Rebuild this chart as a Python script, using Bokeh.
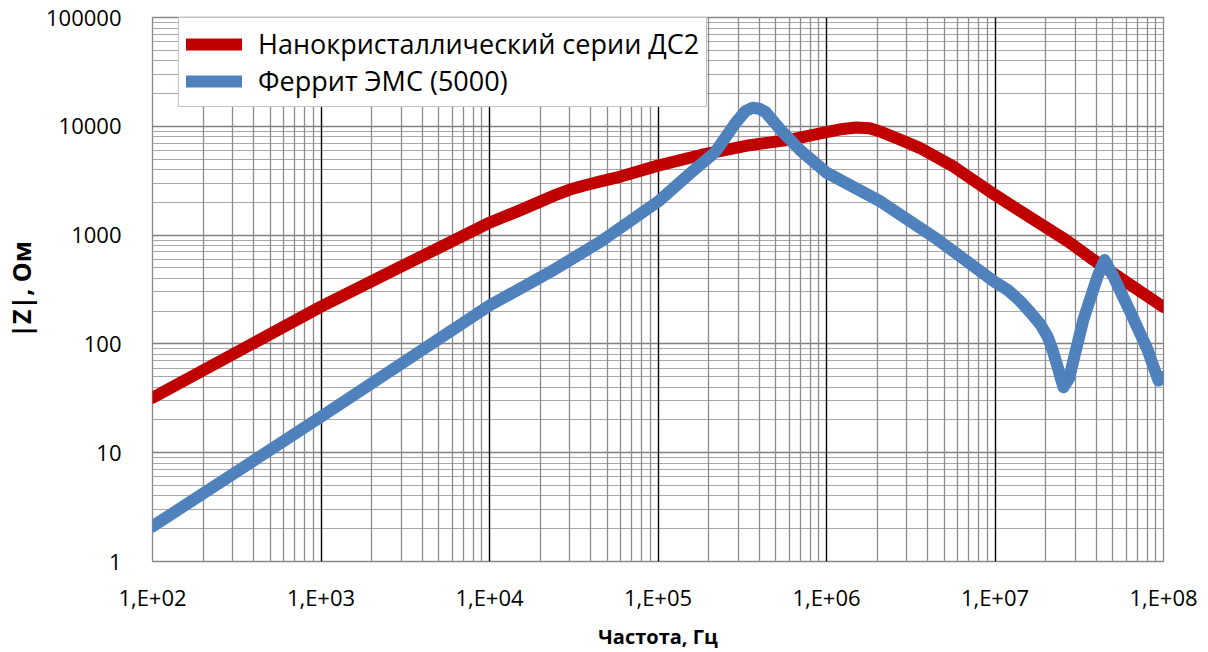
from bokeh.plotting import figure
from bokeh.models import Range1d, FixedTicker, Grid, Legend, LegendItem
from bokeh.embed import file_html
from bokeh.resources import INLINE

# ---- data ----
series_names = ["Нанокристаллический серии ДС2", "Феррит ЭМС (5000)"]

red_freq = [1e2, 1e3, 3e3, 1e4, 1.5e4, 2e4, 2.5e4, 3e4, 3.7e4, 4.5e4, 6e4, 1e5, 1.8e5,
            3.5e5, 6e5, 1e6, 1.25e6, 1.5e6, 1.8e6, 2.1e6, 2.7e6, 3.6e6, 5.7e6, 1e7,
            2.7e7, 3.85e7, 1e8]
red_z = [32, 220, 515, 1300, 1680, 2030, 2360, 2620, 2870, 3100, 3450, 4350, 5450,
         6700, 7500, 8850, 9450, 9750, 9600, 8900, 7600, 6300, 4240, 2340,
         880, 590, 218]

blue_freq = [1e2, 1e3, 1e4, 2.3e4, 4.56e4, 1e5, 1.56e5, 2.19e5, 2.88e5, 3.3e5, 3.64e5,
             4.0e5, 4.35e5, 5.33e5, 7e5, 1e6, 2.1e6, 4.56e6, 1e7, 1.2e7, 1.4e7, 1.62e7,
             1.86e7, 2.05e7, 2.19e7, 2.35e7, 2.45e7, 2.55e7, 2.75e7, 2.93e7, 3.35e7, 4.06e7,
             4.47e7, 5.05e7, 6.37e7, 8.03e7, 9.34e7, 1e8]
blue_z = [2.1, 21.4, 225, 460, 870, 2030, 3720, 5800, 10700, 13800, 14800,
          14500, 13500, 9300, 6000, 3750, 2030, 910, 370, 310, 250, 195,
          151, 117, 89, 62, 49, 40, 48, 72, 168, 415,
          590, 415, 195, 89, 46, 50]

x_ticks = [1e2, 1e3, 1e4, 1e5, 1e6, 1e7, 1e8]
x_tick_labels = ["1,E+02", "1,E+03", "1,E+04", "1,E+05", "1,E+06", "1,E+07", "1,E+08"]
y_ticks = [1, 10, 100, 1000, 10000, 100000]
y_tick_labels = ["1", "10", "100", "1000", "10000", "100000"]

x_minor = [k * t for t in x_ticks[:-1] for k in range(2, 10)]
y_minor = [k * t for t in y_ticks[:-1] for k in range(2, 10)]

FONT = "Open Sans"

p = figure(width=1208, height=652, x_axis_type="log", y_axis_type="log",
           x_range=Range1d(1e2, 1e8), y_range=Range1d(1, 1e5),
           output_backend="svg", toolbar_location=None,
           min_border_left=152, min_border_right=45, min_border_top=17, min_border_bottom=89)

p.outline_line_color = "#888888"
p.outline_line_width = 1.3
p.background_fill_color = "white"
p.border_fill_color = "white"

# axes
for ax, ticks, labels, minor in ((p.xaxis, x_ticks, x_tick_labels, x_minor),
                                 (p.yaxis, y_ticks, y_tick_labels, y_minor)):
    ax.ticker = FixedTicker(ticks=ticks, minor_ticks=minor)
    ax.major_label_overrides = {t: l for t, l in zip(ticks, labels)}
    ax.major_tick_line_color = None
    ax.minor_tick_line_color = None
    ax.axis_line_color = None
    ax.major_label_text_font = FONT
    ax.major_label_text_font_size = "22px"
    ax.major_label_text_color = "black"
    ax.axis_label_text_font = FONT
    ax.axis_label_text_font_style = "bold"
    ax.axis_label_text_color = "black"

p.xaxis.axis_label_text_font_size = "20px"
p.yaxis.axis_label_text_font_size = "25px"
p.xaxis.major_label_standoff = 14
p.yaxis.major_label_standoff = 25
p.xaxis.axis_label = "Частота, Гц"
p.yaxis.axis_label = "|Z|, Ом"
p.xaxis.axis_label_standoff = 8
p.yaxis.axis_label_standoff = 5

# grids
p.xgrid.visible = False
p.ygrid.ticker = FixedTicker(ticks=y_ticks, minor_ticks=y_minor)
p.ygrid.grid_line_color = "#808080"
p.ygrid.grid_line_width = 1.3
p.ygrid.minor_grid_line_color = "#A8A8A8"
p.ygrid.minor_grid_line_width = 1.2

vgrid = Grid(dimension=0, ticker=FixedTicker(ticks=x_ticks[1:], minor_ticks=x_minor),
             grid_line_color="black", grid_line_width=1.4,
             minor_grid_line_color="#8C8C8C", minor_grid_line_width=1.3)
p.add_layout(vgrid)

# series
r_red = p.line(red_freq, red_z, line_color="#C00000", line_width=12,
               line_cap="round", line_join="round")
r_blue = p.line(blue_freq, blue_z, line_color="#4F81BD", line_width=12,
                line_cap="round", line_join="round")

legend = Legend(items=[LegendItem(label=series_names[0], renderers=[r_red]),
                       LegendItem(label=series_names[1], renderers=[r_blue])],
                location=(26, 454), padding=7, spacing=0, margin=0,
                glyph_width=56, glyph_height=30, label_height=30, label_standoff=16,
                label_text_font=FONT, label_text_font_size="27px", label_text_color="black",
                border_line_color="#888888", border_line_width=1.3,
                background_fill_color="white", background_fill_alpha=1.0)
p.add_layout(legend)

open("out.html", "w").write(file_html(p, INLINE))
